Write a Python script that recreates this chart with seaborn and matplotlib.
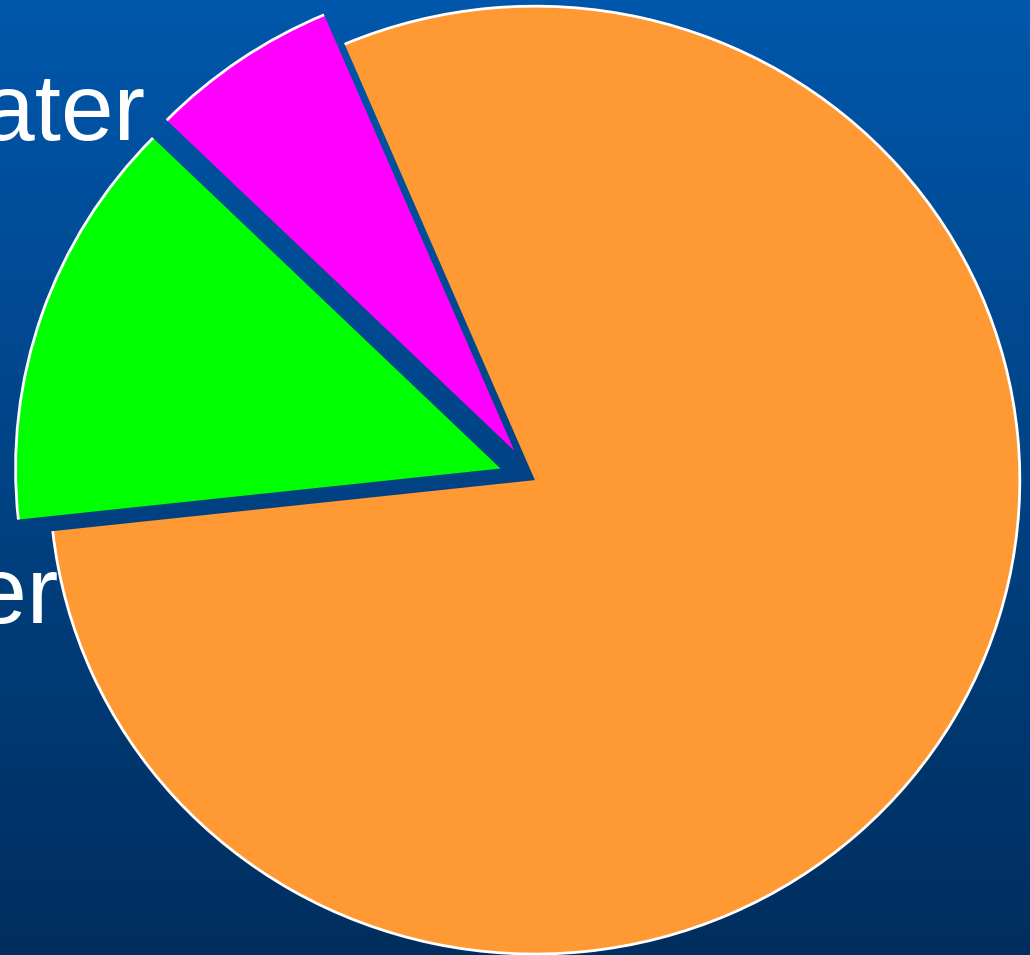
import numpy as np
import matplotlib
matplotlib.use("Agg")
import matplotlib.pyplot as plt
import seaborn as sns
from matplotlib.patches import Arc
from matplotlib.colors import LinearSegmentedColormap

# Share of each category (percent), listed counter-clockwise from the start angle
categories = ["Fresh water", "Other", "Salt water"]
shares = [6.3, 14.0, 79.7]
slice_colors = ["#FF00FF", "#00FF00", "#FF9933"]
offsets = [0.075, 0.075, 0.0]
shown_labels = ["Fresh water", "Other"]

sns.set_theme(style="white")
plt.rcParams["font.family"] = ["Liberation Sans", "DejaVu Sans"]

fig = plt.figure(figsize=(10.30, 9.55), dpi=100)

# Vertical blue gradient backdrop
bg = fig.add_axes([0, 0, 1, 1], zorder=0)
grad = np.linspace(0, 1, 256).reshape(-1, 1)
cmap = LinearSegmentedColormap.from_list("slide", ["#0057AB", "#002E5E"])
bg.imshow(grad, aspect="auto", cmap=cmap, extent=(0, 1, 0, 1), origin="upper")
bg.set_axis_off()

ax = fig.add_axes([0, 0, 1, 1], zorder=1)
ax.patch.set_alpha(0)
wedges, _ = ax.pie(
    shares,
    colors=slice_colors,
    explode=offsets,
    startangle=113.1,
    counterclock=True,
    wedgeprops=dict(linewidth=0),
)

# White rim along the outer arc of every slice
for w in wedges:
    cx, cy = w.center
    ax.add_patch(Arc((cx, cy), 2 * w.r, 2 * w.r, theta1=w.theta1, theta2=w.theta2,
                     color="white", linewidth=2.0, zorder=3))

ax.set_aspect("auto")
ax.set_xlim(-1.103, 1.021)
ax.set_ylim(-1.002, 1.013)
ax.set_axis_off()

# Category labels down the left side
ax.text(0.1408, 0.8534, shown_labels[0], transform=ax.transAxes, ha="right",
        va="baseline", color="white", fontsize=68)
ax.text(0.057, 0.3476, shown_labels[1], transform=ax.transAxes, ha="right",
        va="baseline", color="white", fontsize=68)

fig.savefig("out.png", dpi=100)
